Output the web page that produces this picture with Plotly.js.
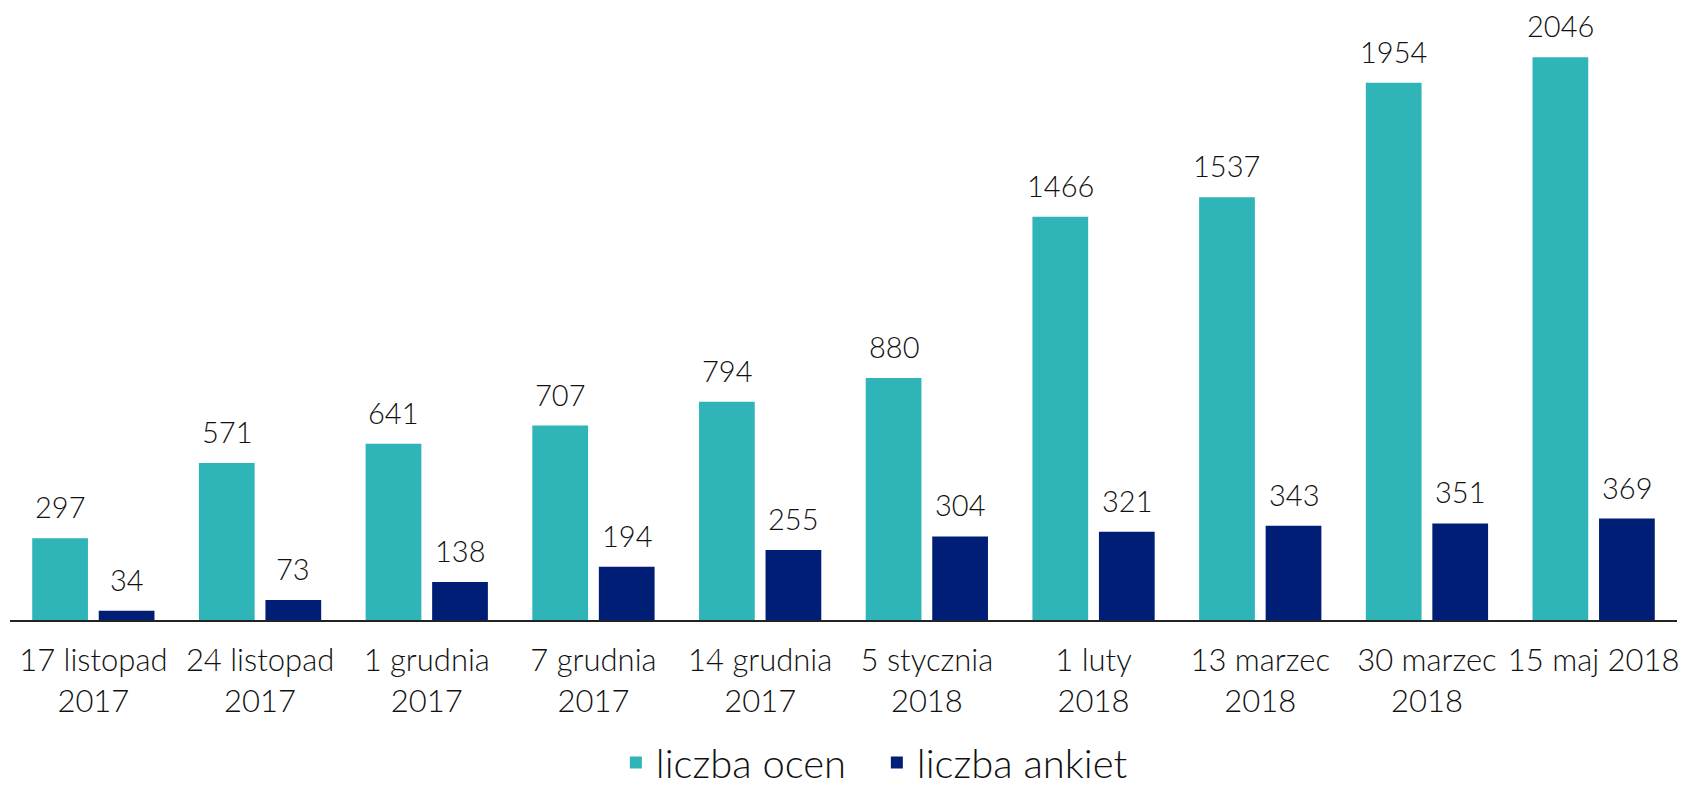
<!DOCTYPE html>
<html>
<head>
<meta charset="utf-8">
<script src="https://cdn.plot.ly/plotly-3.0.1.min.js"></script>
<style>
html,body{margin:0;padding:0;background:#fff;}
#chart{width:1681px;height:795px;}
</style>
</head>
<body>
<div id="chart"></div>
<script>
const categories = [
  "17 listopad<br>2017", "24 listopad<br>2017", "1 grudnia<br>2017", "7 grudnia<br>2017",
  "14 grudnia<br>2017", "5 stycznia<br>2018", "1 luty<br>2018", "13 marzec<br>2018",
  "30 marzec<br>2018", "15 maj 2018"
];
const liczbaOcen = [297, 571, 641, 707, 794, 880, 1466, 1537, 1954, 2046];
const liczbaAnkiet = [34, 73, 138, 194, 255, 304, 321, 343, 351, 369];
const seriesNames = ["liczba ocen", "liczba ankiet"];

const FONT = "Lato, 'Liberation Sans', Arial, sans-serif";
const BARGAP = 0.202;
const colors = ["#2FB5B8", "#001E76"];

const traces = [
  {type: "bar", name: seriesNames[0], x: categories, y: liczbaOcen,
   marker: {color: colors[0]}, hoverinfo: "x+y"},
  {type: "bar", name: seriesNames[1], x: categories, y: liczbaAnkiet,
   marker: {color: colors[1]}, hoverinfo: "x+y"}
];

const off = (1 - BARGAP) / 4;
const annotations = [];
[liczbaOcen, liczbaAnkiet].forEach((vals, t) => {
  vals.forEach((v, i) => {
    annotations.push({
      x: i + (t === 0 ? -off : off), y: v, xref: "x", yref: "y",
      text: String(v), showarrow: false, yanchor: "bottom", yshift: 12,
      font: {family: FONT, size: 29, color: "#111", weight: 300}
    });
  });
});

const layout = {
  width: 1681, height: 795,
  margin: {l: 10, r: 4, t: 15, b: 175, autoexpand: false},
  paper_bgcolor: "#fff", plot_bgcolor: "#fff",
  barmode: "group", bargap: BARGAP, bargroupgap: 0.162,
  font: {family: FONT, size: 29, color: "#111", weight: 300},
  xaxis: {
    type: "category", showline: true, linecolor: "#222", linewidth: 2,
    ticks: "", showgrid: false, zeroline: false, ticklabelstandoff: 12,
    tickfont: {family: FONT, size: 31, color: "#111", weight: 300},
    range: [-0.5, categories.length - 0.5], automargin: false
  },
  yaxis: {visible: false, range: [0, 2200], showgrid: false, zeroline: false},
  showlegend: true,
  legend: {
    orientation: "h", x: 0.52, xanchor: "center", yref: "container", y: 0, yanchor: "bottom",
    font: {family: FONT, size: 40, color: "#111", weight: 300},
    itemwidth: 30, entrywidth: 216, traceorder: "normal"
  },
  annotations: annotations
};

Plotly.newPlot("chart", traces, layout, {displayModeBar: false, staticPlot: true});
</script>
</body>
</html>
